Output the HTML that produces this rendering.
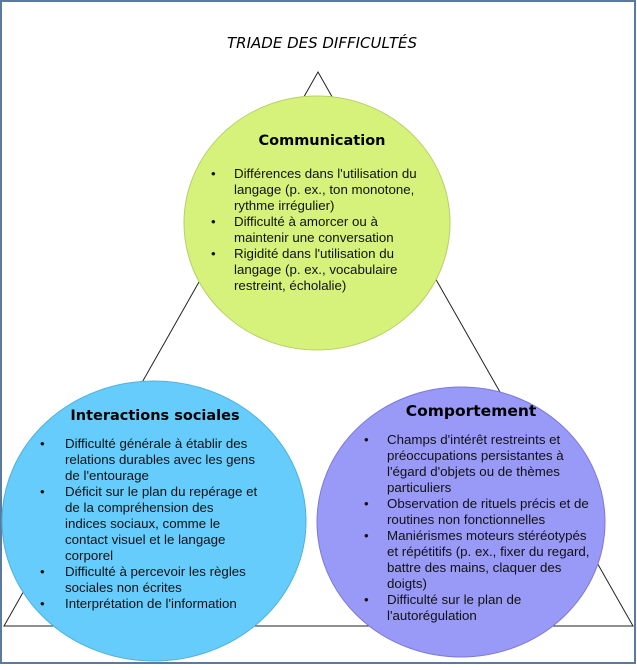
<!DOCTYPE html>
<html><head><meta charset="utf-8"><style>
html,body{margin:0;padding:0;background:#fff}
svg text{font-family:"Liberation Sans",Arial,sans-serif;font-size:13.3px;fill:#111}
svg .h{font-family:"DejaVu Sans",Verdana,sans-serif;font-weight:bold;font-size:14.5px;fill:#000}
</style></head><body>
<svg width="637" height="665" viewBox="0 0 637 665" xmlns="http://www.w3.org/2000/svg">
<rect x="1" y="1" width="634" height="662" fill="#fff" stroke="#5a7a9e" stroke-width="2"/>
<text x="322" y="48" text-anchor="middle" style="font-family:'DejaVu Sans',Verdana,sans-serif;font-style:italic;font-size:15px;fill:#000">TRIADE DES DIFFICULTÉS</text>
<polygon points="318,72 4,626 633,626" fill="none" stroke="#222" stroke-width="1"/>
<ellipse cx="317" cy="223" rx="133" ry="127" fill="#d6f27a" stroke="#b8cf6a" stroke-width="1"/>
<ellipse cx="154" cy="521" rx="152" ry="140" fill="#66ccfc" stroke="#4fb0dc" stroke-width="1"/>
<ellipse cx="461" cy="522" rx="144" ry="135" fill="#9999f8" stroke="#7a7ad8" stroke-width="1"/>

<text class="h" x="322" y="145" text-anchor="middle">Communication</text>
<g>
<text x="211" y="178">•</text><text x="234" y="178">Différences dans l'utilisation du</text>
<text x="234" y="194">langage (p. ex., ton monotone,</text>
<text x="234" y="210">rythme irrégulier)</text>
<text x="211" y="226">•</text><text x="234" y="226">Difficulté à amorcer ou à</text>
<text x="234" y="242">maintenir une conversation</text>
<text x="211" y="258">•</text><text x="234" y="258">Rigidité dans l'utilisation du</text>
<text x="234" y="274">langage (p. ex., vocabulaire</text>
<text x="234" y="290">restreint, écholalie)</text>
</g>

<text class="h" x="155" y="420" text-anchor="middle">Interactions sociales</text>
<g>
<text x="40" y="448">•</text><text x="65" y="448">Difficulté générale à établir des</text>
<text x="65" y="464">relations durables avec les gens</text>
<text x="65" y="480">de l'entourage</text>
<text x="40" y="496">•</text><text x="65" y="496">Déficit sur le plan du repérage et</text>
<text x="65" y="512">de la compréhension des</text>
<text x="65" y="528">indices sociaux, comme le</text>
<text x="65" y="544">contact visuel et le langage</text>
<text x="65" y="560">corporel</text>
<text x="40" y="576">•</text><text x="65" y="576">Difficulté à percevoir les règles</text>
<text x="65" y="592">sociales non écrites</text>
<text x="40" y="608">•</text><text x="65" y="608">Interprétation de l'information</text>
</g>

<text class="h" x="471" y="416" text-anchor="middle" style="font-size:15.5px">Comportement</text>
<g>
<text x="364" y="444">•</text><text x="387" y="444">Champs d'intérêt restreints et</text>
<text x="387" y="460">préoccupations persistantes à</text>
<text x="387" y="476">l'égard d'objets ou de thèmes</text>
<text x="387" y="492">particuliers</text>
<text x="364" y="508">•</text><text x="387" y="508">Observation de rituels précis et de</text>
<text x="387" y="524">routines non fonctionnelles</text>
<text x="364" y="540">•</text><text x="387" y="540">Maniérismes moteurs stéréotypés</text>
<text x="387" y="556">et répétitifs (p. ex., fixer du regard,</text>
<text x="387" y="572">battre des mains, claquer des</text>
<text x="387" y="588">doigts)</text>
<text x="364" y="604">•</text><text x="387" y="604">Difficulté sur le plan de</text>
<text x="387" y="620">l'autorégulation</text>
</g>
</svg>
</body></html>
